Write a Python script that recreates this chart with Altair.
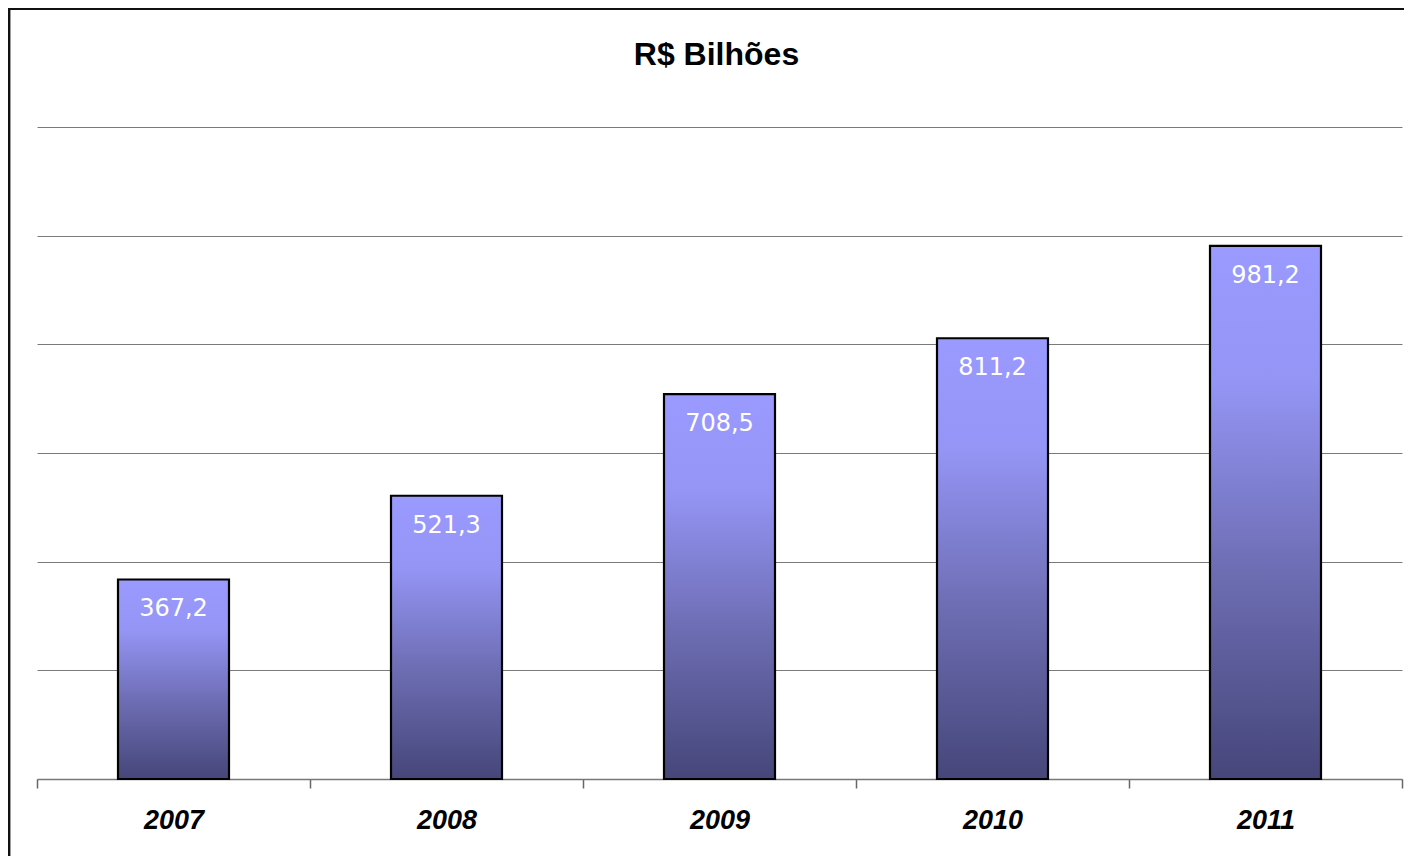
import altair as alt
import pandas as pd

years = ["2007", "2008", "2009", "2010", "2011"]
values = [367.2, 521.3, 708.5, 811.2, 981.2]
labels = ["367,2", "521,3", "708,5", "811,2", "981,2"]
grid_values = [0, 200, 400, 600, 800, 1000, 1200]
title_text = "R$ Bilhões"

df = pd.DataFrame({"ano": years, "valor": values, "rotulo": labels})
df_title = pd.DataFrame({"t": [title_text]})

W, H = 1365, 652

x = alt.X("ano:N", sort=years,
          scale=alt.Scale(paddingInner=0, paddingOuter=0),
          axis=alt.Axis(title=None, labelAngle=0, tickBand="extent",
                        labelFont="Liberation Sans", labelFontSize=27,
                        labelFontWeight="bold", labelFontStyle="italic",
                        labelColor="black", labelPadding=19, tickSize=9,
                        tickColor="#666666", domainColor="#777777",
                        domainWidth=1.5, tickWidth=1.5))
y = alt.Y("valor:Q", scale=alt.Scale(domain=[0, 1200], nice=False),
          axis=alt.Axis(title=None, labels=False, ticks=False, domain=False,
                        grid=True, values=grid_values, gridColor="#7a7a7a",
                        gridWidth=1.2))

grad = alt.Gradient(
    gradient="linear", x1=0, y1=0, x2=0, y2=1,
    stops=[alt.GradientStop(color="#9a9aff", offset=0),
           alt.GradientStop(color="#9595f6", offset=0.25),
           alt.GradientStop(color="#6c6cb2", offset=0.62),
           alt.GradientStop(color="#46467a", offset=1)])

bars = alt.Chart(df).mark_bar(size=111, color=grad, stroke="black",
                              strokeWidth=2.2).encode(x=x, y=y)

text = alt.Chart(df).mark_text(color="white", font="DejaVu Sans", fontSize=24,
                               baseline="alphabetic", dy=37).encode(
    x=alt.X("ano:N", sort=years), y="valor:Q", text="rotulo:N")

title = alt.Chart(df_title).mark_text(
    font="Liberation Sans", fontSize=32, fontWeight="bold", color="black",
    baseline="alphabetic", align="center").encode(
    x=alt.value(W / 2 - 3), y=alt.value(-62), text="t:N")

frame_left = alt.Chart(df).mark_rule(color="#111111", strokeWidth=2.2).encode(
    x=alt.value(-28), y=alt.value(-119), y2=alt.value(H + 90))
frame_top = alt.Chart(df).mark_rule(color="#111111", strokeWidth=2.2).encode(
    x=alt.value(-28), x2=alt.value(W + 20), y=alt.value(-118))

chart = alt.layer(bars, text, title, frame_left, frame_top).properties(
    width=W, height=H,
    autosize=alt.AutoSizeParams(type="none"),
    padding={"left": 29, "top": 119, "right": 2, "bottom": 77},
).configure(background="white").configure_view(stroke=None)

chart.save("out.html", embed_options={"renderer": "svg", "actions": False})
